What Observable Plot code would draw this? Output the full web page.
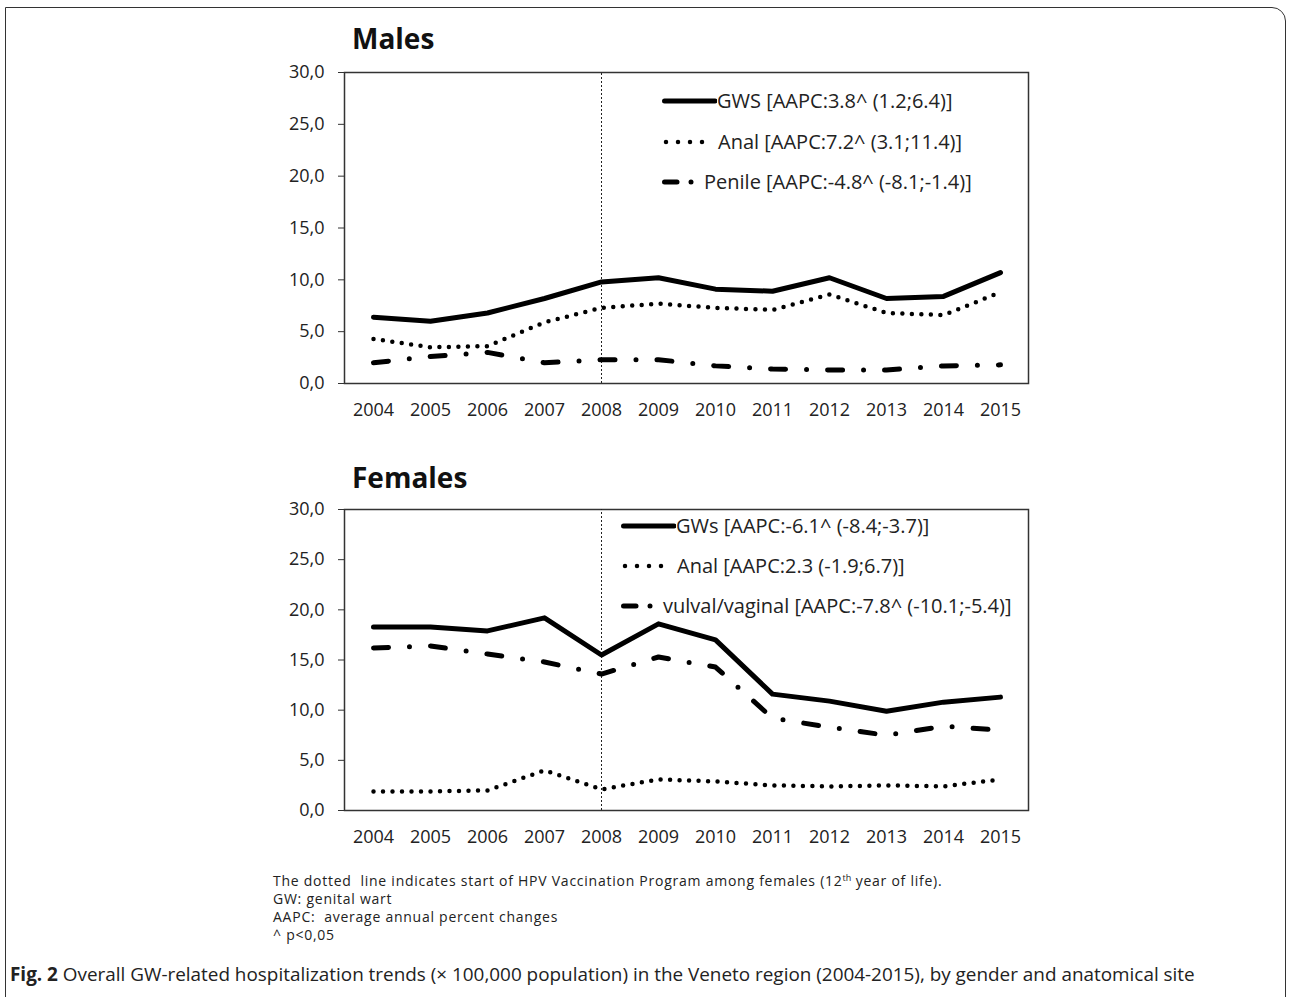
<!DOCTYPE html>
<html>
<head>
<meta charset="utf-8">
<script src="https://cdn.jsdelivr.net/npm/d3@7"></script>
<script src="https://cdn.jsdelivr.net/npm/@observablehq/plot@0.6"></script>
<style>
  html, body { margin: 0; padding: 0; background: #fff; }
  body { width: 1292px; height: 997px; position: relative; overflow: hidden; font-family: "Open Sans", sans-serif; color: #222; }
  .border { position: absolute; left: 5px; top: 7px; width: 1281px; height: 1010px; border: 1.5px solid #333; border-top-right-radius: 14px; box-sizing: border-box; }
  .abs { position: absolute; }
  .title { font-weight: 700; font-size: 28px; line-height: 1; color: #111; }
  .leg { font-size: 20px; color: #222; white-space: nowrap; line-height: 1; display: flex; align-items: center; }
  .leg svg { display: block; }
  .note { font-size: 14px; color: #222; line-height: 17px; height: 17px; white-space: nowrap; letter-spacing: 0.75px; }
  .note .sup { position: relative; top: -5px; font-size: 9px; line-height: 0; letter-spacing: 0; }
  .caption { font-size: 18.9px; color: #222; white-space: nowrap; }
</style>
</head>
<body>
<div class="border"></div>
<div id="root"></div>
<script>
const years = [2004, 2005, 2006, 2007, 2008, 2009, 2010, 2011, 2012, 2013, 2014, 2015];
const yTicks = [0, 5, 10, 15, 20, 25, 30];
const vaccinationYear = 2008;

const malesGWS    = [6.4, 6.0, 6.8, 8.2, 9.8, 10.2, 9.1, 8.9, 10.2, 8.2, 8.4, 10.7];
const malesAnal   = [4.3, 3.5, 3.6, 5.9, 7.3, 7.7, 7.3, 7.1, 8.6, 6.8, 6.6, 8.8];
const malesPenile = [2.0, 2.6, 3.0, 2.0, 2.3, 2.3, 1.7, 1.4, 1.3, 1.3, 1.7, 1.8];

const femalesGWs    = [18.3, 18.3, 17.9, 19.2, 15.5, 18.6, 17.0, 11.6, 10.9, 9.9, 10.8, 11.3];
const femalesAnal   = [1.9, 1.9, 2.0, 4.0, 2.1, 3.1, 2.9, 2.5, 2.4, 2.5, 2.4, 3.1];
const femalesVulval = [16.2, 16.4, 15.6, 14.8, 13.6, 15.3, 14.3, 9.2, 8.3, 7.5, 8.4, 8.0];

const malesLabels = ["GWS [AAPC:3.8^ (1.2;6.4)]", "Anal [AAPC:7.2^ (3.1;11.4)]", "Penile [AAPC:-4.8^ (-8.1;-1.4)]"];
const femalesLabels = ["GWs [AAPC:-6.1^ (-8.4;-3.7)]", "Anal [AAPC:2.3 (-1.9;6.7)]", "vulval/vaginal [AAPC:-7.8^ (-10.1;-5.4)]"];

const notes = [
  "The dotted&nbsp; line indicates start of HPV Vaccination Program among females (12<span class=\"sup\">th</span> year of life).",
  "GW: genital wart",
  "AAPC:&nbsp; average annual percent changes",
  "^ p&lt;0,05"
];

const styles = [
  {strokeWidth: 5, strokeDasharray: null, strokeLinecap: "round"},
  {strokeWidth: 4.5, strokeDasharray: "0 9.5", strokeLinecap: "round"},
  {strokeWidth: 5, strokeDasharray: "15 21 0 21", strokeLinecap: "round"}
];

const toRows = (arr) => years.map((y, i) => ({year: y, value: arr[i]}));
const fmt = d => d.toFixed(1).replace(".", ",");

function makeChart(seriesList, top, height) {
  const marks = [
    Plot.frame({stroke: "#333", strokeWidth: 1.5}),
    Plot.ruleX([vaccinationYear], {stroke: "#222", strokeWidth: 1, strokeDasharray: "2 2", y1: 0, y2: 30}),
    Plot.axisY({ticks: yTicks, tickFormat: fmt, tickSize: 6, tickPadding: 14, label: null, stroke: "#333"}),
    Plot.axisX({tickSize: 0, tickPadding: 20, label: null, tickFormat: d => String(d)})
  ];
  seriesList.forEach((s, i) => {
    const st = styles[i];
    const opts = {x: "year", y: "value", stroke: "#000", strokeWidth: st.strokeWidth, strokeLinecap: st.strokeLinecap, strokeLinejoin: "round", curve: "linear"};
    if (st.strokeDasharray) opts.strokeDasharray = st.strokeDasharray;
    marks.push(Plot.lineY(toRows(s), opts));
  });
  const svg = Plot.plot({
    width: 1060,
    height: height,
    marginLeft: 344,
    marginRight: 32,
    marginTop: 12,
    marginBottom: 45,
    x: {type: "point", domain: years, padding: 0.5},
    y: {domain: [0, 30]},
    style: {fontFamily: "'Open Sans', sans-serif", fontSize: "18px", color: "#222", background: "transparent", overflow: "visible"},
    marks
  });
  svg.style.position = "absolute";
  svg.style.left = "0px";
  svg.style.top = top + "px";
  document.getElementById("root").appendChild(svg);
}

const ns = "http://www.w3.org/2000/svg";
function seg(svg, x1, x2, w, dash) {
  const line = document.createElementNS(ns, "line");
  line.setAttribute("x1", x1); line.setAttribute("x2", x2);
  line.setAttribute("y1", 6); line.setAttribute("y2", 6);
  line.setAttribute("stroke", "#000");
  line.setAttribute("stroke-width", w);
  line.setAttribute("stroke-linecap", "round");
  if (dash) line.setAttribute("stroke-dasharray", dash);
  svg.appendChild(line);
}
function swatch(i) {
  const svg = document.createElementNS(ns, "svg");
  svg.setAttribute("height", 12);
  if (i === 0) { svg.setAttribute("width", 55); seg(svg, 2.5, 53, 5); }
  if (i === 1) { svg.setAttribute("width", 56); seg(svg, 4, 52, 4.5, "0 12"); }
  if (i === 2) { svg.setAttribute("width", 42); seg(svg, 2.5, 15, 5); seg(svg, 29, 29, 5, "0 20"); }
  return svg;
}

function legend(labels, x, ys) {
  labels.forEach((lab, i) => {
    const d = document.createElement("div");
    d.className = "abs leg";
    d.style.left = x + "px";
    d.style.top = (ys[i] - 11) + "px";
    d.appendChild(swatch(i));
    const t = document.createElement("span");
    t.textContent = lab;
    d.appendChild(t);
    document.body.appendChild(d);
  });
}

function addText(cls, html, left, top) {
  const d = document.createElement("div");
  d.className = "abs " + cls;
  d.style.left = left + "px";
  d.style.top = top + "px";
  d.innerHTML = html;
  document.body.appendChild(d);
}

makeChart([malesGWS, malesAnal, malesPenile], 60, 368);
makeChart([femalesGWs, femalesAnal, femalesVulval], 497, 358);

addText("title", "Males", 352, 24);
addText("title", "Females", 352, 463);

legend(malesLabels, 662, [102, 142.5, 183]);
legend(femalesLabels, 621, [527, 567, 607]);

notes.forEach((n, i) => addText("note", n, 273, 872 + i * 18));
addText("caption", "<b>Fig. 2</b> Overall GW-related hospitalization trends (× 100,000 population) in the Veneto region (2004-2015), by gender and anatomical site", 10, 961);
</script>
</body>
</html>
